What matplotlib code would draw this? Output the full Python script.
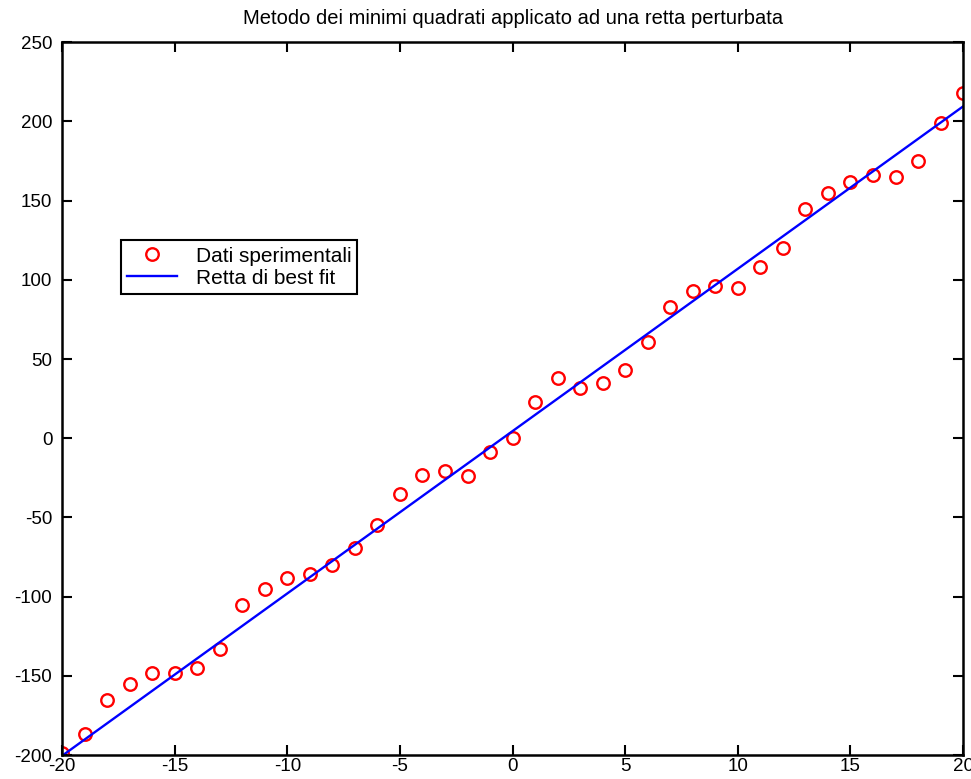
import numpy as np
import matplotlib
matplotlib.use("Agg")
import matplotlib.pyplot as plt

plt.rcParams["font.family"] = ["Liberation Sans", "DejaVu Sans"]
plt.rcParams["axes.unicode_minus"] = False

# dati
x = np.arange(-20, 21)
y = [-199, -187, -165, -155, -148, -148, -145, -133, -105, -95,
     -88, -86, -80, -69, -55, -35, -23, -21, -24, -9,
     0, 23, 38, 32, 35, 43, 61, 83, 93, 96,
     95, 108, 120, 145, 155, 162, 166, 165, 175, 199,
     218]

# coefficienti della retta di best fit come appare nel grafico
slope = 10.25
intercept = 4.5
y_fit = slope * x + intercept

fig = plt.figure(figsize=(9.71, 7.79), dpi=100)
ax = fig.add_axes([0.0639, 0.0308, 0.928, 0.915])

ax.plot(x, y, "o", mfc="none", mec="red", ms=9, mew=1.7, label="Dati sperimentali")
ax.plot(x, y_fit, "-", color="blue", lw=1.7, label="Retta di best fit")

ax.set_xlim(-20, 20)
ax.set_ylim(-200, 250)
ax.set_xticks(range(-20, 21, 5))
ax.set_yticks(range(-200, 251, 50))
ax.tick_params(direction="in", length=7, width=1.5, top=True, right=True,
               labelsize=13.5)
ax.tick_params(axis="y", pad=7)
ax.tick_params(axis="x", pad=2)
for s in ax.spines.values():
    s.set_linewidth(1.8)

ax.set_title("Metodo dei minimi quadrati applicato ad una retta perturbata",
             fontsize=14.5, pad=13)

leg = ax.legend(loc="upper left", bbox_to_anchor=(0.065, 0.722), borderaxespad=0,
                fancybox=False, framealpha=1, edgecolor="black", fontsize=15,
                handlelength=2.4, borderpad=0.3, labelspacing=0.15, handletextpad=0.9)
leg.get_frame().set_linewidth(1.5)

fig.savefig("out.png", dpi=100)
